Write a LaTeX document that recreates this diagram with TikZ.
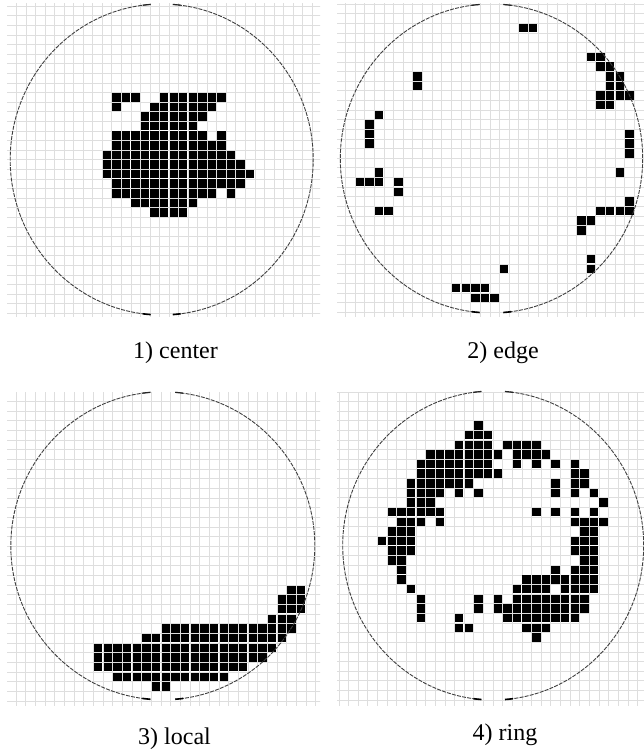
\documentclass[tikz,border=0pt]{standalone}
\usepackage{fontspec}
\setmainfont{Liberation Serif}
\newcommand\wafercirc[5]{%
  \draw[wafer] (#1,#2) ++({90+#5}:#3 and #4) arc[start angle={90+#5}, end angle={270-#5}, x radius=#3, y radius=#4];
  \draw[wafer] (#1,#2) ++({-90+#5}:#3 and #4) arc[start angle={-90+#5}, end angle={90-#5}, x radius=#3, y radius=#4];
  \draw[notch] (#1,#2) ++({90+#5}:#3 and #4) arc[start angle={90+#5}, end angle={93+#5}, x radius=#3, y radius=#4];
  \draw[notch] (#1,#2) ++({90-#5}:#3 and #4) arc[start angle={90-#5}, end angle={87-#5}, x radius=#3, y radius=#4];
  \draw[topnotch] (#1,#2) ++({270-#5}:#3 and #4) arc[start angle={270-#5}, end angle={267-#5}, x radius=#3, y radius=#4];
  \draw[topnotch] (#1,#2) ++({-90+#5}:#3 and #4) arc[start angle={-90+#5}, end angle={-87+#5}, x radius=#3, y radius=#4];
}
\newcommand\wafergrid[4]{%
  \foreach \i in {#1,...,#2} {\draw[gridline] (\i,#3) -- (\i,#4);}
  \foreach \j in {#3,...,#4} {\draw[gridline] (#1,\j) -- (#2,\j);}
}
\begin{document}
\begin{tikzpicture}[x=1pt,y=-1pt,
  gridline/.style={draw=black!13, line width=0.55pt},
  cellfill/.style={fill=black},
  wafer/.style={draw=black!75, line width=0.9pt, dash pattern=on 4pt off 1.2pt},
  notch/.style={draw=black, line width=1.6pt},
  topnotch/.style={draw=black!85, line width=1.2pt},
  lab/.style={font=\fontsize{24}{28}\selectfont, inner sep=0pt, anchor=center}]
\useasboundingbox (0,0) rectangle (644,755);
\fill[white] (0,0) rectangle (644,755);

% ---------- panel 1: center
\begin{scope}
\clip (7,3) rectangle (320,316);
\begin{scope}[xshift=111.7pt, yshift=-92.5pt, x=9.54pt, y=-9.6pt]
\wafergrid{-12}{23}{-11}{25}
\foreach \r/\a/\b in {0/0/2,0/5/11,1/0/0,1/4/10,2/3/9,3/3/8,4/0/9,4/11/11,5/0/11,
  6/-1/12,7/-1/13,8/-1/14,9/0/13,10/0/10,10/12/12,11/2/8,12/4/7}
  {\foreach \c in {\a,...,\b} {\fill[cellfill] (\c+0.06,\r+0.06) rectangle (\c+0.94,\r+0.94);}}
\end{scope}
\end{scope}
\wafercirc{161.7}{159.5}{151.5}{155.5}{4.2}
\node[lab] (l1) at (175.5,353) {1) center};

% ---------- panel 2: edge
\begin{scope}
\clip (337,3) rectangle (644,316);
\begin{scope}[xshift=518.7pt, yshift=-23.3pt, x=9.63pt, y=-9.63pt]
\wafergrid{-20}{14}{-3}{31}
\foreach \r/\a/\b in {0/0/1,3/7/8,4/8/9,5/-11/-11,5/9/10,6/-11/-11,6/9/10,7/8/11,8/8/9,
  9/-15/-15,10/-16/-16,11/-16/-16,11/11/11,12/-16/-16,12/11/11,13/11/11,
  15/-15/-15,15/10/10,16/-17/-15,16/-13/-13,17/-13/-13,18/11/11,
  19/-15/-14,19/8/11,20/6/7,21/6/6,24/7/7,25/-2/-2,25/7/7,27/-7/-4,28/-5/-3}
  {\foreach \c in {\a,...,\b} {\fill[cellfill] (\c+0.06,\r+0.06) rectangle (\c+0.94,\r+0.94);}}
\end{scope}
\end{scope}
\wafercirc{491.5}{158.5}{151.2}{154.5}{4.5}
\node[lab] (l2) at (503,353) {2) edge};

% ---------- panel 3: local
\begin{scope}
\clip (7,392) rectangle (320,705);
\begin{scope}[xshift=93.3pt, yshift=-585pt, x=9.67pt, y=-9.67pt]
\wafergrid{-10}{25}{-22}{13}
\foreach \r/\a/\b in {0/20/21,1/19/21,2/19/21,3/18/20,4/7/20,5/5/19,6/0/18,7/0/17,
  8/0/15,9/2/13,10/6/7}
  {\foreach \c in {\a,...,\b} {\fill[cellfill] (\c+0.06,\r+0.06) rectangle (\c+0.94,\r+0.94);}}
\end{scope}
\end{scope}
\wafercirc{162.8}{545.8}{152}{154}{4.7}
\node[lab] (l3) at (174.5,739) {3) local};

% ---------- panel 4: ring
\begin{scope}
\clip (337,392) rectangle (644,705);
\begin{scope}[xshift=473.7pt, yshift=-420.7pt, x=9.63pt, y=-9.63pt]
\wafergrid{-15}{18}{-4}{30}
\foreach \r/\a/\b in {0/0/0,1/-1/1,2/-2/1,2/3/6,3/-5/2,3/4/7,4/-6/1,4/4/4,4/6/6,4/8/8,4/10/10,
  5/-6/2,5/10/11,6/-7/-1,6/8/8,6/10/11,7/-7/-4,7/-2/-2,7/0/0,7/8/8,7/10/10,7/12/12,
  8/-7/-5,8/13/13,9/-9/-4,9/6/6,9/8/8,9/10/10,9/12/12,10/-8/-6,10/-4/-4,10/10/13,
  11/-9/-7,11/11/12,12/-10/-7,12/10/12,13/-9/-7,13/10/12,14/-9/-8,14/11/12,
  15/-8/-8,15/8/8,15/10/12,16/-8/-8,16/5/12,17/-7/-7,17/4/7,17/9/12,
  18/-6/-6,18/0/0,18/2/2,18/4/11,19/-6/-6,19/0/0,19/2/11,20/-6/-6,20/-2/-2,20/3/10,
  21/-2/-1,21/5/7,22/6/6}
  {\foreach \c in {\a,...,\b} {\fill[cellfill] (\c+0.06,\r+0.06) rectangle (\c+0.94,\r+0.94);}}
\end{scope}
\end{scope}
\wafercirc{493.2}{545.5}{150.5}{154.5}{4.5}
\node[lab] (l4) at (505,735) {4) ring};
\end{tikzpicture}
\end{document}
